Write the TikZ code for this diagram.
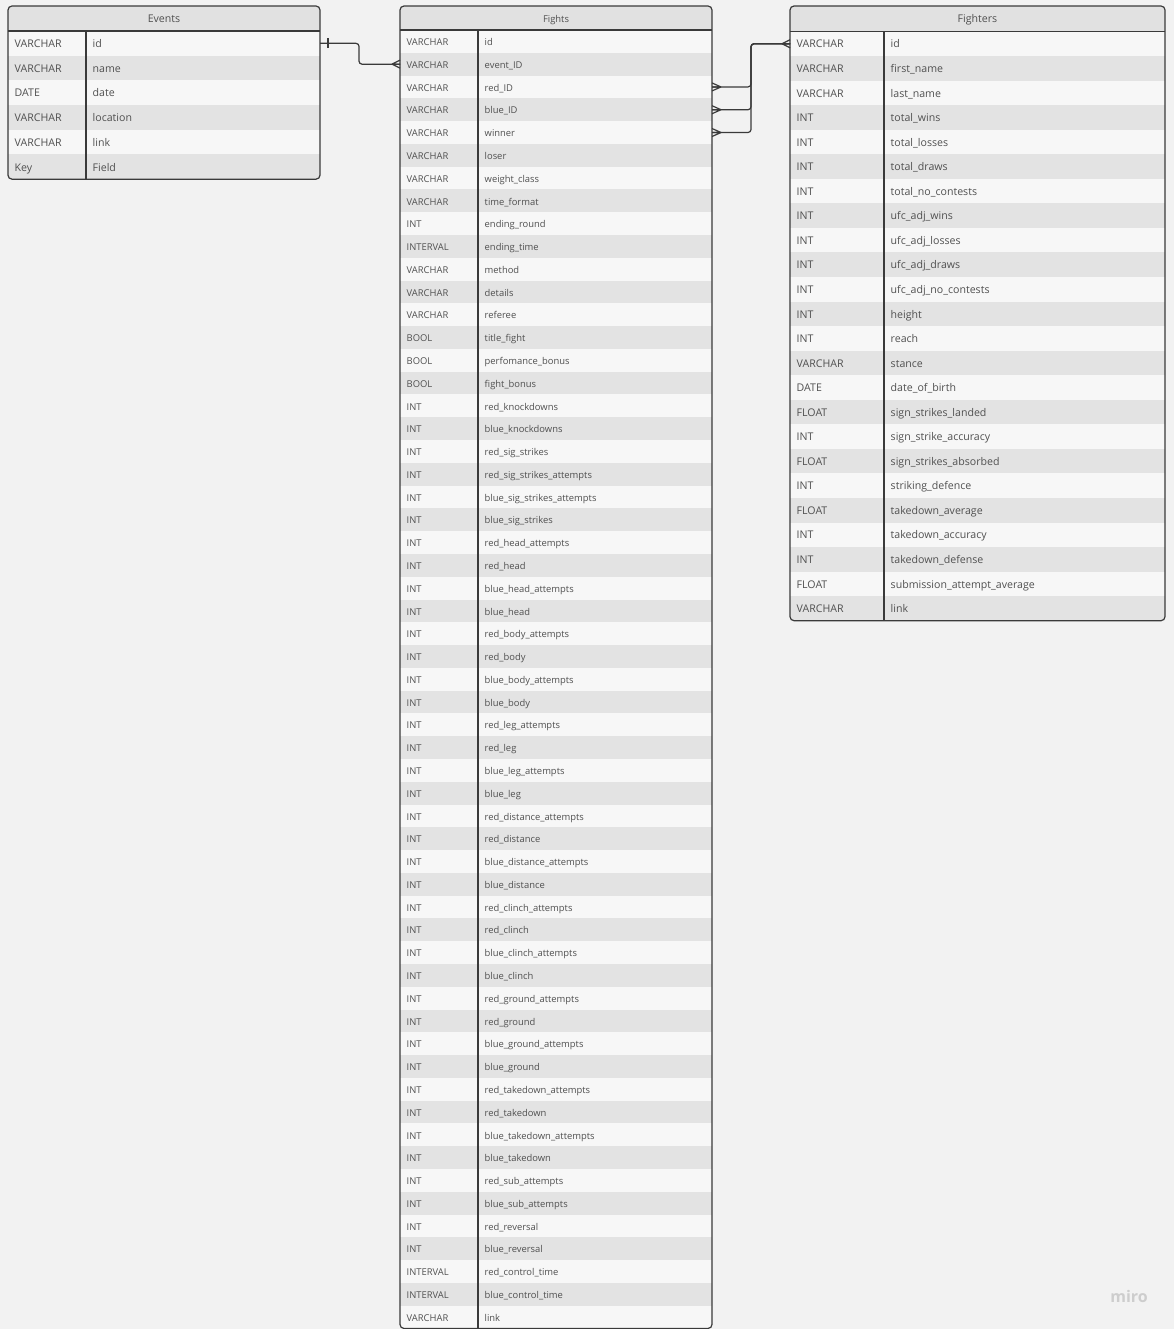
\documentclass[tikz,border=0pt]{standalone}
\usepackage{fontspec}
\setmainfont{Open Sans}
\definecolor{bg}{HTML}{F2F2F2}
\definecolor{rowA}{HTML}{F7F7F7}
\definecolor{rowB}{HTML}{E3E3E3}
\definecolor{hdr}{HTML}{E1E1E1}
\definecolor{ink}{HTML}{3A3A3A}
\definecolor{txt}{HTML}{505050}
\definecolor{logo}{HTML}{CDCDCD}
\tikzset{
  border/.style={draw=ink, line width=1.2pt},
  conn/.style={draw=ink, line width=1.2pt},
  rowcell/.style={inner sep=0pt, outer sep=0pt, draw=none},
  celltext/.style={inner sep=0pt, text=txt, font=\tfont},
  hdrtext/.style={inner sep=0pt, text=txt, font=\tfont},
  pics/crowL/.style={code={\draw[conn] (-8,0) -- (0,-4) (-8,0) -- (0,0) (-8,0) -- (0,4);}},
  pics/crowR/.style={code={\draw[conn] (9,0) -- (0,-4) (9,0) -- (0,0) (9,0) -- (0,4);}},
}
\newcommand\ertable[2]{%
  \pgfmathsetmacro\tw{\xb-\xa}%
  \pgfmathsetmacro\yend{\yh+\nr*\rh}%
  \pgfmathsetmacro\xm{(\xa+\xb)/2}%
  \begin{scope}
    \clip[rounded corners=4] (\xa,\ya) rectangle (\xb,\yend);
    \fill[hdr] (\xa,\ya) rectangle (\xb,\yh);
    \foreach \ty/\fd [count=\i] in {#2} {
      \pgfmathsetmacro\yc{\yh+(\i-0.5)*\rh}
      \ifodd\i \def\rc{rowA}\else\def\rc{rowB}\fi
      \node[rowcell, fill=\rc, minimum width=\tw pt, minimum height=\rh pt] (\tname-\i) at (\xm,\yc) {};
      \node[celltext, anchor=mid west] (\tname-\i-t) at (\xa+6.5,\yc+1.5) {\ty};
      \node[celltext, anchor=mid west] (\tname-\i-f) at (\xd+6.5,\yc+1.5) {\fd};
    }
  \end{scope}
  \node[hdrtext, anchor=mid] (\tname-title) at (\xm,{(\ya+\yh)/2+1.5}) {#1};
  \draw[border, rounded corners=4] (\xa,\ya) rectangle (\xb,\yend);
  \draw[border] (\xa,\yh) -- (\xb,\yh) (\xd,\yh) -- (\xd,\yend);
}
\begin{document}
\begin{tikzpicture}[x=1pt,y=-1pt]
\useasboundingbox[fill=bg] (0,0) rectangle (1174,1329);

% Events
\def\tname{events}\def\xa{8}\def\xd{86}\def\xb{320}\def\ya{6}\def\yh{31}\def\rh{24.7}\def\nr{6}
\def\tfont{\fontsize{10.6}{12}\selectfont}
\ertable{Events}{VARCHAR/id, VARCHAR/name, DATE/date, VARCHAR/location, VARCHAR/link, Key/Field}

% Fights
\def\tname{fights}\def\xa{400}\def\xd{478}\def\xb{712}\def\ya{6}\def\yh{30}\def\rh{22.78}\def\nr{57}
\def\tfont{\fontsize{9.4}{11}\selectfont}
\ertable{Fights}{VARCHAR/id, VARCHAR/event\_ID, VARCHAR/red\_ID, VARCHAR/blue\_ID, VARCHAR/winner,
 VARCHAR/loser, VARCHAR/weight\_class, VARCHAR/time\_format, INT/ending\_round, INTERVAL/ending\_time,
 VARCHAR/method, VARCHAR/details, VARCHAR/referee, BOOL/title\_fight, BOOL/perfomance\_bonus,
 BOOL/fight\_bonus, INT/red\_knockdowns, INT/blue\_knockdowns, INT/red\_sig\_strikes,
 INT/red\_sig\_strikes\_attempts, INT/blue\_sig\_strikes\_attempts, INT/blue\_sig\_strikes,
 INT/red\_head\_attempts, INT/red\_head, INT/blue\_head\_attempts, INT/blue\_head,
 INT/red\_body\_attempts, INT/red\_body, INT/blue\_body\_attempts, INT/blue\_body,
 INT/red\_leg\_attempts, INT/red\_leg, INT/blue\_leg\_attempts, INT/blue\_leg,
 INT/red\_distance\_attempts, INT/red\_distance, INT/blue\_distance\_attempts, INT/blue\_distance,
 INT/red\_clinch\_attempts, INT/red\_clinch, INT/blue\_clinch\_attempts, INT/blue\_clinch,
 INT/red\_ground\_attempts, INT/red\_ground, INT/blue\_ground\_attempts, INT/blue\_ground,
 INT/red\_takedown\_attempts, INT/red\_takedown, INT/blue\_takedown\_attempts, INT/blue\_takedown,
 INT/red\_sub\_attempts, INT/blue\_sub\_attempts, INT/red\_reversal, INT/blue\_reversal,
 INTERVAL/red\_control\_time, INTERVAL/blue\_control\_time, VARCHAR/link}

% Fighters
\def\tname{fighters}\def\xa{790}\def\xd{884}\def\xb{1165}\def\ya{6}\def\yh{31.5}\def\rh{24.55}\def\nr{24}
\def\tfont{\fontsize{10.6}{12}\selectfont}
\ertable{Fighters}{VARCHAR/id, VARCHAR/first\_name, VARCHAR/last\_name, INT/total\_wins,
 INT/total\_losses, INT/total\_draws, INT/total\_no\_contests, INT/ufc\_adj\_wins,
 INT/ufc\_adj\_losses, INT/ufc\_adj\_draws, INT/ufc\_adj\_no\_contests, INT/height, INT/reach,
 VARCHAR/stance, DATE/date\_of\_birth, FLOAT/sign\_strikes\_landed, INT/sign\_strike\_accuracy,
 FLOAT/sign\_strikes\_absorbed, INT/striking\_defence, FLOAT/takedown\_average,
 INT/takedown\_accuracy, INT/takedown\_defense, FLOAT/submission\_attempt\_average, VARCHAR/link}

% Connectors
\draw[conn, rounded corners=3] (events-1.east) -- ++(39,0) |- (fights-2.west);
\draw[conn] (events-1.east) ++(8,-5) -- ++(0,10);
\pic at (fights-2.west) {crowL};

\draw[conn, rounded corners=3] (fighters-1.west) -- ++(-39,0) |- (fights-3.east);
\draw[conn, rounded corners=3] (fighters-1.west) -- ++(-39,0) |- (fights-4.east);
\draw[conn, rounded corners=3] (fighters-1.west) -- ++(-39,0) |- (fights-5.east);
\pic at (fighters-1.west) {crowL};
\pic at (fights-3.east) {crowR};
\pic at (fights-4.east) {crowR};
\pic at (fights-5.east) {crowR};

\node[text=logo, font=\bfseries\fontsize{16}{18}\selectfont, inner sep=0pt] (miro) at (1129,1296) {miro};
\end{tikzpicture}
\end{document}
